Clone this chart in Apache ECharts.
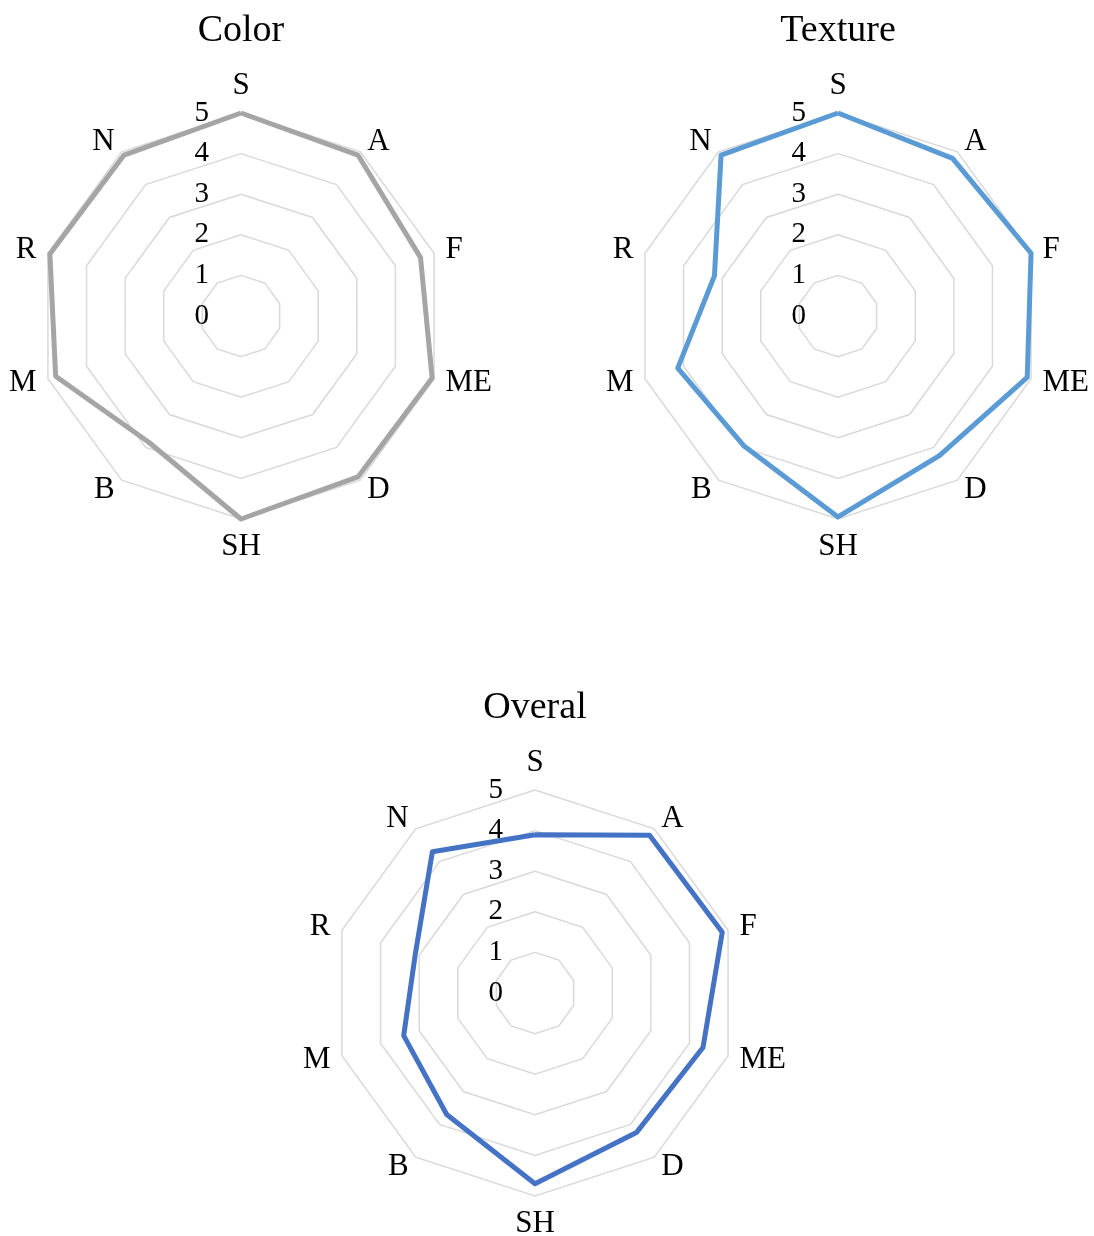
<!DOCTYPE html>
<html>
<head>
<meta charset="utf-8">
<script src="https://cdn.jsdelivr.net/npm/echarts@6/dist/echarts.min.js"></script>
<style>
html,body{margin:0;padding:0;background:#fff;}
#chart{width:1094px;height:1236px;}
</style>
</head>
<body>
<div id="chart"></div>
<script>
// Categories in clockwise order starting from the top
const categories = ['S', 'A', 'F', 'ME', 'D', 'SH', 'B', 'M', 'R', 'N'];
const titles = ['Color', 'Texture', 'Overal'];
const colorValues   = [5.0, 4.9, 4.65, 4.95, 4.9, 5.0, 3.85, 4.8, 4.95, 4.9];
const textureValues = [5.0, 4.8, 5.0, 4.9, 4.25, 4.95, 3.95, 4.15, 3.2, 4.9];
const overalValues  = [3.9, 4.8, 4.85, 4.35, 4.25, 4.7, 3.7, 3.4, 3.1, 4.3];
const axisMin = 0, axisMax = 5, axisSplits = 5;

const seriesValues = [colorValues, textureValues, overalValues];
const lineColors = ['#a5a5a5', '#5b9bd5', '#4472c4'];
const centers = [[241, 316], [838, 316], [535, 993]];
const titlePos = [[236, 7], [833, 7], [530, 684]];

const font = 'Liberation Serif, Times New Roman, serif';

// ECharts places indicators counter-clockwise; reorder to draw clockwise
function ccw(arr) { return [arr[0]].concat(arr.slice(1).reverse()); }

const indicator = ccw(categories).map((c, i) => {
  const o = { name: c, min: axisMin, max: axisMax };
  if (i === 0) o.axisLabel = { show: true };
  return o;
});

const chart = echarts.init(document.getElementById('chart'), null, { renderer: 'canvas' });
chart.setOption({
  animation: false,
  backgroundColor: '#ffffff',
  title: titles.map((t, i) => ({
    text: t,
    left: titlePos[i][0],
    top: titlePos[i][1],
    textAlign: 'center',
    textStyle: { fontFamily: font, fontSize: 38, fontWeight: 'normal', color: '#000' }
  })),
  radar: centers.map(c => ({
    center: c,
    radius: 203,
    shape: 'polygon',
    splitNumber: axisSplits,
    startAngle: 90,
    nameGap: 12,
    axisName: { color: '#000', fontSize: 31, fontFamily: font },
    indicator: indicator,
    axisLine: { show: false },
    axisTick: { show: false },
    splitArea: { show: false },
    splitLine: { lineStyle: { color: '#d9d9d9', width: 1.5 } },
    axisLabel: { show: false, color: '#000', fontSize: 29, fontFamily: font, margin: 32, padding: [6, 0, 0, 0], showMinLabel: true, showMaxLabel: true }
  })),
  series: seriesValues.map((v, i) => ({
    type: 'radar',
    radarIndex: i,
    symbol: 'none',
    silent: true,
    lineStyle: { color: lineColors[i], width: 5, join: 'round' },
    itemStyle: { color: lineColors[i] },
    data: [{ value: ccw(v), name: titles[i] }]
  }))
});
</script>
</body>
</html>
